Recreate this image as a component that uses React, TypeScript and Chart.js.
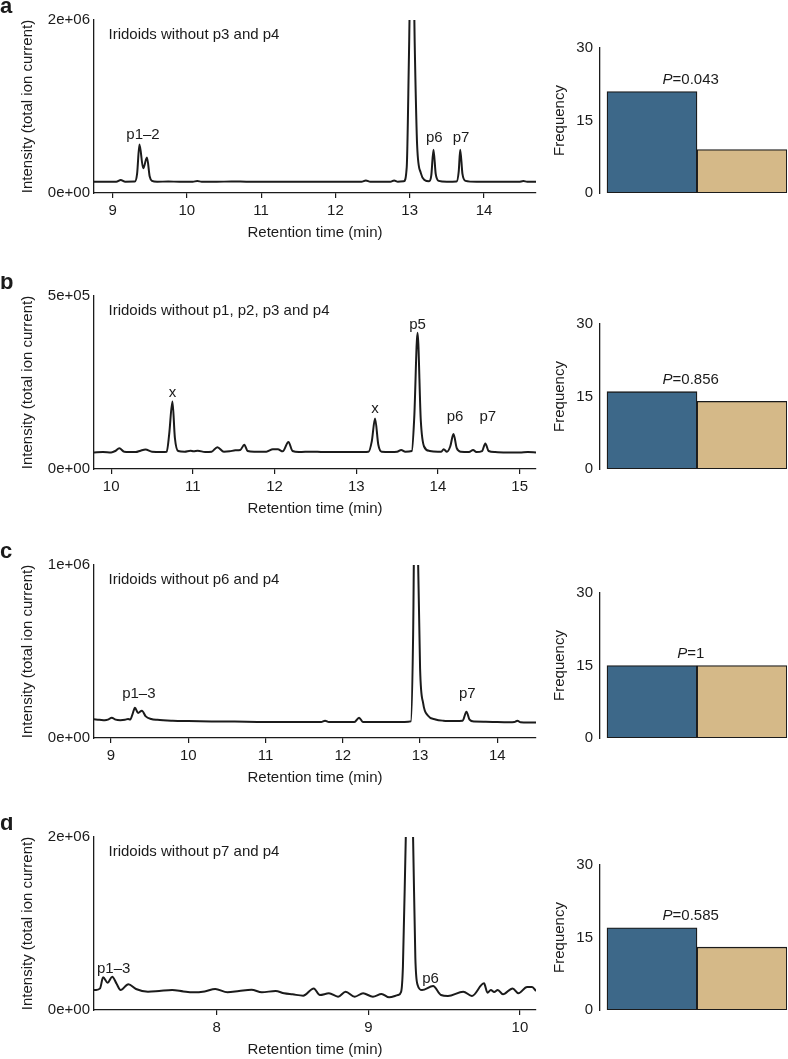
import React, { useEffect, useRef } from "react";
import { Chart, registerables } from "chart.js";

Chart.register(...registerables);

const FONT = "'Liberation Sans', Arial, Helvetica, sans-serif";
const INK = "#1b1b1b";
const BLUE = "#3d6889";
const TAN = "#d5b988";

Chart.defaults.font.family = FONT;
Chart.defaults.font.size = 15;
Chart.defaults.color = INK;

// ---------- Panel a ----------
const aTitle = "Iridoids without p3 and p4";
const aXRange = [8.75, 14.7];
const aXTicks = [9, 10, 11, 12, 13, 14];
const aYTicks = [0, 2e6];
const aYTickLabels = ["0e+00", "2e+06"];
const aTime = [8.75, 8.9, 9.05, 9.11, 9.17, 9.3, 9.33, 9.362, 9.412, 9.463, 9.5, 9.53, 9.6, 9.75, 9.9, 10.08, 10.14, 10.2, 10.4, 10.6, 10.8, 11.0, 11.3, 11.6, 11.9, 12.2, 12.35, 12.41, 12.47, 12.6, 12.74, 12.79, 12.84, 12.92, 12.96, 12.99, 13.03, 13.07, 13.1, 13.15, 13.2, 13.26, 13.29, 13.32, 13.35, 13.39, 13.5, 13.63, 13.66, 13.68, 13.71, 13.75, 13.9, 14.1, 14.3, 14.47, 14.53, 14.58, 14.7];
const aIntensity = [1.3e5, 1.31e5, 1.3e5, 1.5e5, 1.31e5, 1.32e5, 2.2e5, 5.6e5, 2.85e5, 4.1e5, 1.9e5, 1.4e5, 1.3e5, 1.33e5, 1.3e5, 1.31e5, 1.38e5, 1.31e5, 1.3e5, 1.33e5, 1.31e5, 1.3e5, 1.31e5, 1.3e5, 1.3e5, 1.29e5, 1.3e5, 1.45e5, 1.3e5, 1.29e5, 1.3e5, 1.45e5, 1.31e5, 1.35e5, 3.0e5, 1.6e6, 3.6e6, 1.6e6, 5.5e5, 2.3e5, 1.5e5, 1.35e5, 2.0e5, 5.0e5, 2.2e5, 1.4e5, 1.3e5, 1.32e5, 2.5e5, 5.0e5, 2.2e5, 1.4e5, 1.3e5, 1.31e5, 1.3e5, 1.29e5, 1.38e5, 1.3e5, 1.3e5];
const aPeakLabels = ["p1–2", "p6", "p7"];
const aPeakLabelX = [9.41, 13.33, 13.69];
const aPeakLabelY = [6.7e5, 6.4e5, 6.4e5];

// ---------- Panel b ----------
const bTitle = "Iridoids without p1, p2, p3 and p4";
const bXRange = [9.79, 15.2];
const bXTicks = [10, 11, 12, 13, 14, 15];
const bYTicks = [0, 5e5];
const bYTickLabels = ["0e+00", "5e+05"];
const bTime = [9.79, 9.9, 10.0, 10.05, 10.1, 10.16, 10.3, 10.36, 10.42, 10.5, 10.62, 10.68, 10.71, 10.75, 10.78, 10.82, 10.9, 10.97, 11.01, 11.06, 11.15, 11.23, 11.3, 11.38, 11.45, 11.52, 11.58, 11.63, 11.67, 11.75, 11.9, 11.98, 12.04, 12.1, 12.17, 12.22, 12.3, 12.45, 12.6, 12.8, 13.0, 13.15, 13.19, 13.23, 13.27, 13.31, 13.42, 13.5, 13.55, 13.6, 13.68, 13.71, 13.75, 13.79, 13.83, 13.9, 14.0, 14.04, 14.07, 14.11, 14.15, 14.19, 14.23, 14.28, 14.38, 14.43, 14.47, 14.54, 14.58, 14.62, 14.7, 14.85, 15.0, 15.1, 15.2];
const bIntensity = [4.8e4, 4.9e4, 4.8e4, 5.2e4, 6.0e4, 5.0e4, 4.9e4, 5.3e4, 5.6e4, 5.0e4, 4.9e4, 5.0e4, 1.0e5, 1.95e5, 9.0e4, 5.2e4, 5.0e4, 5.3e4, 5.1e4, 5.3e4, 4.9e4, 5.0e4, 6.3e4, 5.0e4, 5.1e4, 5.4e4, 5.5e4, 7.0e4, 5.2e4, 5.0e4, 5.0e4, 5.7e4, 5.7e4, 5.1e4, 7.8e4, 5.2e4, 4.9e4, 5.0e4, 4.9e4, 4.9e4, 4.9e4, 5.0e4, 8.0e4, 1.46e5, 7.0e4, 5.0e4, 4.9e4, 5.0e4, 5.5e4, 5.0e4, 5.2e4, 1.5e5, 3.94e5, 1.4e5, 6.5e4, 5.2e4, 5.0e4, 5.0e4, 5.7e4, 5.0e4, 6.5e4, 1.01e5, 6.0e4, 5.0e4, 4.9e4, 5.5e4, 4.9e4, 5.2e4, 7.4e4, 5.2e4, 4.9e4, 4.8e4, 4.8e4, 4.9e4, 4.8e4];
const bPeakLabels = ["x", "x", "p5", "p6", "p7"];
const bPeakLabelX = [10.75, 13.23, 13.75, 14.21, 14.61];
const bPeakLabelY = [2.19e5, 1.73e5, 4.16e5, 1.51e5, 1.51e5];

// ---------- Panel c ----------
const cTitle = "Iridoids without p6 and p4";
const cXRange = [8.78, 14.5];
const cXTicks = [9, 10, 11, 12, 13, 14];
const cYTicks = [0, 1e6];
const cYTickLabels = ["0e+00", "1e+06"];
const cTime = [8.78, 8.85, 8.92, 8.96, 9.01, 9.06, 9.12, 9.18, 9.22, 9.25, 9.28, 9.31, 9.35, 9.4, 9.45, 9.52, 9.6, 9.8, 10.0, 10.3, 10.6, 11.0, 11.3, 11.6, 11.72, 11.77, 11.82, 12.0, 12.15, 12.21, 12.26, 12.4, 12.6, 12.8, 12.88, 12.91, 12.945, 12.975, 13.0, 13.04, 13.1, 13.2, 13.3, 13.45, 13.55, 13.6, 13.64, 13.7, 13.85, 14.0, 14.15, 14.22, 14.26, 14.3, 14.4, 14.5];
const cIntensity = [1.08e5, 1.06e5, 1.03e5, 1.06e5, 1.17e5, 1.06e5, 1.03e5, 1.05e5, 1.1e5, 1.07e5, 1.4e5, 1.75e5, 1.45e5, 1.58e5, 1.25e5, 1.1e5, 1.05e5, 1.0e5, 9.8e4, 9.6e4, 9.5e4, 9.3e4, 9.3e4, 9.2e4, 9.3e4, 1.0e5, 9.2e4, 9.2e4, 9.2e4, 1.17e5, 9.3e4, 9.2e4, 9.3e4, 9.3e4, 9.6e4, 6.0e5, 2.2e6, 1.0e6, 4.0e5, 2.0e5, 1.3e5, 1.07e5, 1.0e5, 9.8e4, 1.0e5, 1.52e5, 1.06e5, 9.5e4, 9.4e4, 9.2e4, 9.1e4, 9.2e4, 1.0e5, 9.1e4, 9.0e4, 9.0e4];
const cPeakLabels = ["p1–3", "p7"];
const cPeakLabelX = [9.36, 13.61];
const cPeakLabelY = [2.58e5, 2.58e5];

// ---------- Panel d ----------
const dTitle = "Iridoids without p7 and p4";
const dXRange = [7.19, 10.106];
const dXTicks = [8, 9, 10];
const dYTicks = [0, 2e6];
const dYTickLabels = ["0e+00", "2e+06"];
const dTime = [7.19, 7.2, 7.23, 7.25, 7.28, 7.31, 7.34, 7.365, 7.417, 7.467, 7.546, 7.62, 7.705, 7.78, 7.842, 7.92, 7.99, 8.07, 8.147, 8.229, 8.297, 8.388, 8.444, 8.5, 8.57, 8.64, 8.68, 8.74, 8.8, 8.85, 8.91, 8.965, 9.03, 9.087, 9.137, 9.195, 9.216, 9.228, 9.247, 9.27, 9.295, 9.31, 9.325, 9.354, 9.427, 9.479, 9.525, 9.626, 9.683, 9.763, 9.786, 9.808, 9.83, 9.854, 9.888, 9.952, 9.99, 10.047, 10.08, 10.106];
const dIntensity = [2.3e5, 2.31e5, 2.5e5, 3.78e5, 3.16e5, 3.85e5, 3.0e5, 2.31e5, 2.97e5, 2.43e5, 2.12e5, 2.2e5, 2.31e5, 2.15e5, 2.05e5, 2.15e5, 2.43e5, 2.05e5, 2.2e5, 2.35e5, 2.05e5, 2.2e5, 1.93e5, 1.81e5, 1.66e5, 2.5e5, 1.73e5, 1.93e5, 1.54e5, 2.12e5, 1.54e5, 1.93e5, 1.54e5, 1.85e5, 1.46e5, 1.73e5, 2.1e5, 5.0e5, 2.0e6, 3.6e6, 2.0e6, 6.0e5, 2.9e5, 2.31e5, 2.77e5, 1.73e5, 1.62e5, 2.12e5, 1.62e5, 3.08e5, 2.0e5, 2.31e5, 2.08e5, 2.31e5, 1.81e5, 2.5e5, 1.93e5, 2.66e5, 2.66e5, 2.2e5];
const dPeakLabels = ["p1–3", "p6"];
const dPeakLabelX = [7.32, 9.41];
const dPeakLabelY = [4.7e5, 3.55e5];

// ---------- Frequency bars ----------
const freqTicks = [0, 15, 30];
const freqBlue = [21, 16, 15, 17];
const freqTan = [9, 14, 15, 13];
const pValues = ["0.043", "0.856", "1", "0.585"];

const panelLetters = ["a", "b", "c", "d"];

// ---------- Layout constants ----------
const ROW_TOPS = [20, 296, 565, 837];
const PLOT_H = 173;
const BAR_H = 145;
const PAD_TOP = 20;
const X_AXIS_H = 49;
const LEFT_AXIS_W = 94;
const CHROM_W = 540;
const BAR_LEFT = 540;
const BAR_W = 248;

type Panel = {
  letter: string;
  title: string;
  time: number[];
  intensity: number[];
  xRange: number[];
  xTicks: number[];
  yTicks: number[];
  yTickLabels: string[];
  peakLabels: string[];
  peakX: number[];
  peakY: number[];
};

const panels: Panel[] = [
  { letter: panelLetters[0], title: aTitle, time: aTime, intensity: aIntensity, xRange: aXRange, xTicks: aXTicks, yTicks: aYTicks, yTickLabels: aYTickLabels, peakLabels: aPeakLabels, peakX: aPeakLabelX, peakY: aPeakLabelY },
  { letter: panelLetters[1], title: bTitle, time: bTime, intensity: bIntensity, xRange: bXRange, xTicks: bXTicks, yTicks: bYTicks, yTickLabels: bYTickLabels, peakLabels: bPeakLabels, peakX: bPeakLabelX, peakY: bPeakLabelY },
  { letter: panelLetters[2], title: cTitle, time: cTime, intensity: cIntensity, xRange: cXRange, xTicks: cXTicks, yTicks: cYTicks, yTickLabels: cYTickLabels, peakLabels: cPeakLabels, peakX: cPeakLabelX, peakY: cPeakLabelY },
  { letter: panelLetters[3], title: dTitle, time: dTime, intensity: dIntensity, xRange: dXRange, xTicks: dXTicks, yTicks: dYTicks, yTickLabels: dYTickLabels, peakLabels: dPeakLabels, peakX: dPeakLabelX, peakY: dPeakLabelY },
];

function Chromatogram({ panel, top }: { panel: Panel; top: number }) {
  const ref = useRef<HTMLCanvasElement>(null);
  const height = PAD_TOP + PLOT_H + X_AXIS_H;
  useEffect(() => {
    const labelPlugin = {
      id: "chromLabels",
      afterDatasetsDraw(chart: any) {
        const { ctx, chartArea, scales } = chart;
        ctx.save();
        ctx.fillStyle = INK;
        ctx.font = `15px ${FONT}`;
        ctx.textBaseline = "middle";
        ctx.textAlign = "left";
        ctx.fillText(panel.title, chartArea.left + 14.5, chartArea.top + 15);
        ctx.textAlign = "center";
        panel.peakLabels.forEach((t, i) => {
          ctx.fillText(t, scales.x.getPixelForValue(panel.peakX[i]), scales.y.getPixelForValue(panel.peakY[i]));
        });
        ctx.font = `bold 22px ${FONT}`;
        ctx.textAlign = "left";
        ctx.textBaseline = "alphabetic";
        ctx.fillText(panel.letter, 0, chartArea.top - 7);
        ctx.restore();
      },
    };
    const chart = new Chart(ref.current as HTMLCanvasElement, {
      type: "line",
      data: {
        datasets: [
          {
            data: panel.time.map((t, i) => ({ x: t, y: panel.intensity[i] })),
            borderColor: INK,
            borderWidth: 2,
            pointRadius: 0,
            cubicInterpolationMode: "monotone",
            fill: false,
          },
        ],
      },
      options: {
        animation: false,
        responsive: false,
        devicePixelRatio: 1,
        events: [],
        layout: { padding: { top: PAD_TOP, right: CHROM_W - 536, bottom: 0, left: 0 }, autoPadding: false },
        plugins: { legend: { display: false }, tooltip: { enabled: false }, title: { display: false } },
        scales: {
          x: {
            type: "linear",
            min: panel.xRange[0],
            max: panel.xRange[1],
            afterBuildTicks: (s: any) => {
              s.ticks = panel.xTicks.map((v) => ({ value: v }));
            },
            afterFit: (s: any) => {
              s.height = X_AXIS_H;
            },
            ticks: { color: INK, font: { size: 15 }, padding: 4, maxRotation: 0, autoSkip: false, callback: (v: any) => String(v) },
            grid: { display: true, drawOnChartArea: false, drawTicks: true, tickLength: 5, color: INK, lineWidth: 1.2 },
            border: { display: true, color: INK, width: 1.3 },
            title: { display: true, text: "Retention time (min)", color: INK, font: { size: 15 }, padding: 0 },
          },
          y: {
            type: "linear",
            min: 0,
            max: panel.yTicks[panel.yTicks.length - 1],
            afterBuildTicks: (s: any) => {
              s.ticks = panel.yTicks.map((v) => ({ value: v }));
            },
            afterFit: (s: any) => {
              s.width = LEFT_AXIS_W;
            },
            ticks: {
              color: INK,
              font: { size: 15 },
              padding: 4,
              callback: (v: any) => panel.yTickLabels[panel.yTicks.indexOf(Number(v))],
            },
            grid: { display: false, drawTicks: false },
            border: { display: true, color: INK, width: 1.3 },
            title: { display: true, text: "Intensity (total ion current)", color: INK, font: { size: 15 }, padding: { top: 19, bottom: 0 } },
          },
        },
      },
      plugins: [labelPlugin],
    } as any);
    return () => chart.destroy();
  }, [panel]);
  return (
    <canvas
      ref={ref}
      width={CHROM_W}
      height={height}
      style={{ position: "absolute", left: 0, top: top - PAD_TOP, width: CHROM_W, height }}
    />
  );
}

function FreqBars({ blue, tan, p, top }: { blue: number; tan: number; p: string; top: number }) {
  const ref = useRef<HTMLCanvasElement>(null);
  const height = PAD_TOP + BAR_H + X_AXIS_H;
  useEffect(() => {
    const pPlugin = {
      id: "pLabel",
      afterDatasetsDraw(chart: any) {
        const { ctx, scales } = chart;
        const cx = scales.x.getPixelForValue(0.93);
        const cy = scales.y.getPixelForValue(Math.max(blue, tan) + 2.4);
        ctx.save();
        ctx.fillStyle = INK;
        ctx.textBaseline = "middle";
        ctx.textAlign = "left";
        ctx.font = `italic 15px ${FONT}`;
        const wP = ctx.measureText("P").width;
        ctx.font = `15px ${FONT}`;
        const rest = "=" + p;
        const wR = ctx.measureText(rest).width;
        const sx = cx - (wP + wR) / 2;
        ctx.font = `italic 15px ${FONT}`;
        ctx.fillText("P", sx, cy);
        ctx.font = `15px ${FONT}`;
        ctx.fillText(rest, sx + wP, cy);
        ctx.restore();
      },
    };
    const chart = new Chart(ref.current as HTMLCanvasElement, {
      type: "bar",
      data: {
        datasets: [
          {
            data: [
              { x: 0.5, y: blue },
              { x: 1.5, y: tan },
            ],
            backgroundColor: [BLUE, TAN],
            borderColor: INK,
            borderWidth: 1.3,
            borderSkipped: false,
            categoryPercentage: 1,
            barPercentage: 1,
          },
        ],
      },
      options: {
        animation: false,
        responsive: false,
        devicePixelRatio: 1,
        events: [],
        layout: { padding: { top: PAD_TOP, right: 1, bottom: X_AXIS_H, left: 0 }, autoPadding: false },
        plugins: { legend: { display: false }, tooltip: { enabled: false }, title: { display: false } },
        scales: {
          x: {
            type: "linear",
            min: -7 / 90,
            max: 2,
            offset: false,
            display: false,
            grid: { offset: false },
            afterBuildTicks: (s: any) => {
              s.ticks = [{ value: 0.5 }, { value: 1.5 }];
            },
          },
          y: {
            type: "linear",
            min: 0,
            max: 30,
            afterBuildTicks: (s: any) => {
              s.ticks = freqTicks.map((v) => ({ value: v }));
            },
            afterFit: (s: any) => {
              s.width = 60;
            },
            ticks: { color: INK, font: { size: 15 }, padding: 7 },
            grid: { display: false, drawTicks: false },
            border: { display: true, color: INK, width: 1.3 },
            title: { display: true, text: "Frequency", color: INK, font: { size: 15 }, padding: { top: 11, bottom: 0 } },
          },
        },
      },
      plugins: [pPlugin],
    } as any);
    return () => chart.destroy();
  }, [blue, tan, p]);
  return (
    <canvas
      ref={ref}
      width={BAR_W}
      height={height}
      style={{ position: "absolute", left: BAR_LEFT, top: top - PAD_TOP, width: BAR_W, height }}
    />
  );
}

export default function App() {
  return (
    <div
      style={{
        position: "absolute",
        left: 0,
        top: 0,
        width: 788,
        height: 1059,
        overflow: "hidden",
        background: "#ffffff",
      }}
    >
      {panels.map((panel, i) => (
        <Chromatogram key={"c" + i} panel={panel} top={ROW_TOPS[i]} />
      ))}
      {panels.map((_, i) => (
        <FreqBars
          key={"f" + i}
          blue={freqBlue[i]}
          tan={freqTan[i]}
          p={pValues[i]}
          top={ROW_TOPS[i] + PLOT_H - BAR_H}
        />
      ))}
    </div>
  );
}
